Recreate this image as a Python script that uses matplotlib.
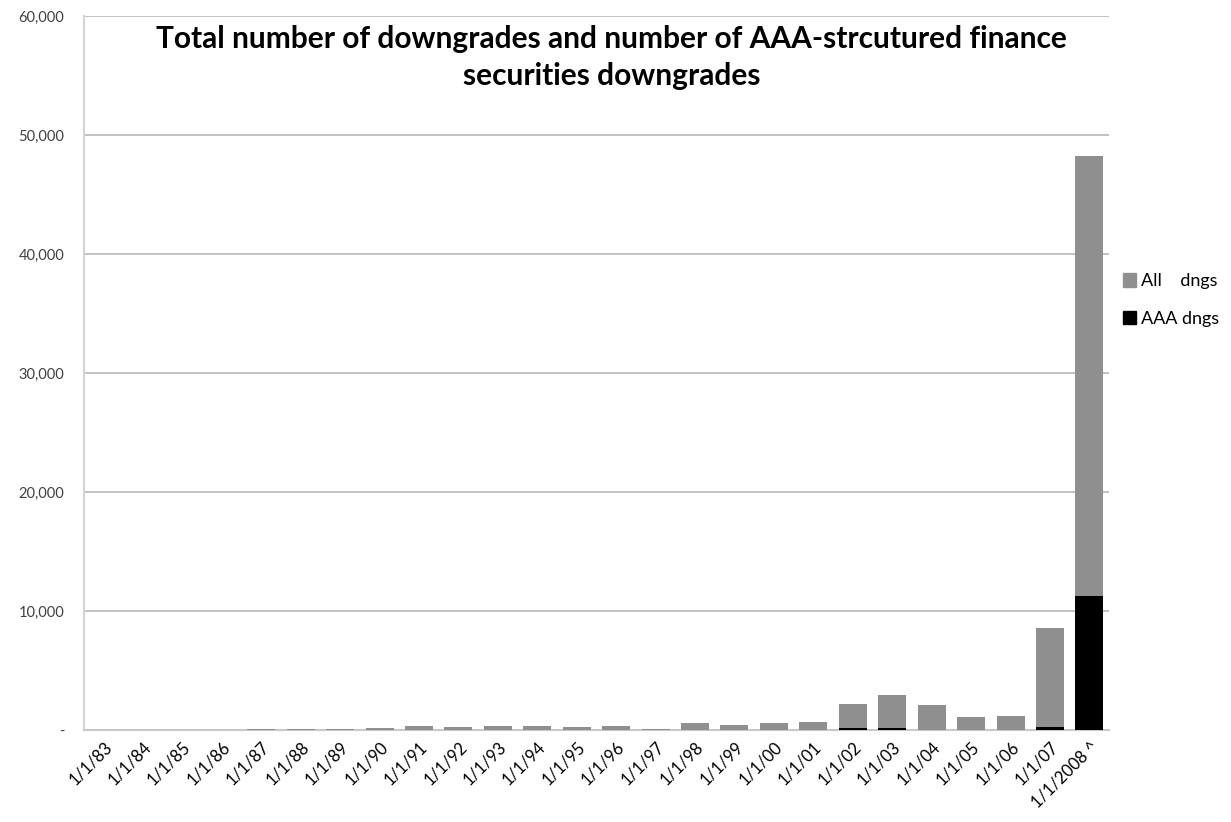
import numpy as np
import matplotlib
matplotlib.use("Agg")
import matplotlib.pyplot as plt
from matplotlib.ticker import FuncFormatter
from matplotlib.patches import Patch

# ---------------- Data ----------------
dates = [
    "1/1/83", "1/1/84", "1/1/85", "1/1/86", "1/1/87", "1/1/88", "1/1/89",
    "1/1/90", "1/1/91", "1/1/92", "1/1/93", "1/1/94", "1/1/95", "1/1/96",
    "1/1/97", "1/1/98", "1/1/99", "1/1/00", "1/1/01", "1/1/02", "1/1/03",
    "1/1/04", "1/1/05", "1/1/06", "1/1/07", "1/1/2008 ^",
]
aaa_dngs = [
    0, 0, 0, 0, 0, 0, 0, 0, 0, 0, 0, 0, 0, 0,
    0, 0, 0, 0, 0, 150, 150, 30, 0, 0, 250, 11300,
]
all_dngs = [
    0, 0, 0, 0, 100, 100, 100, 200, 350, 250, 350, 350, 250, 350,
    100, 550, 450, 550, 650, 2050, 2750, 2070, 1100, 1200, 8350, 37000,
]
yticks = [0, 10000, 20000, 30000, 40000, 50000, 60000]

# ---------------- Style ----------------
plt.rcParams["font.family"] = ["Lato", "DejaVu Sans"]
gray = "#8f8f8f"
black = "#000000"
label_col = "#404040"

fig = plt.figure(figsize=(12.31, 8.22), dpi=100)
ax = fig.add_axes([0.068, 0.112, 0.833, 0.868])

x = np.arange(len(dates))
ax.bar(x, aaa_dngs, width=0.71, color=black, zorder=3)
ax.bar(x, all_dngs, width=0.71, bottom=aaa_dngs, color=gray, zorder=3)

ax.set_xlim(-0.5, len(dates) - 0.5)
ax.set_ylim(0, 60000)
ax.set_yticks(yticks)
ax.yaxis.set_major_formatter(
    FuncFormatter(lambda v, p: "-" if v == 0 else f"{int(v):,}")
)
ax.grid(axis="y", color="#b8b8b8", linewidth=1.2, zorder=0)
ax.set_axisbelow(True)

for s in ["top", "right"]:
    ax.spines[s].set_visible(False)
ax.spines["left"].set_color("#d4d4d4")
ax.spines["left"].set_linewidth(1.5)
ax.spines["bottom"].set_color("#c8c8c8")
ax.spines["bottom"].set_linewidth(1.5)

ax.tick_params(axis="y", length=0, pad=14, labelsize=10.5, labelcolor=label_col)
ax.tick_params(axis="x", length=0, pad=6, labelsize=12, labelcolor="#000000")
ax.set_xticks(x)
ax.set_xticklabels(dates, rotation=45, ha="right", rotation_mode="anchor")

fig.text(0.497, 0.970,
         "Total number of downgrades and number of AAA-strcutured finance\nsecurities downgrades",
         ha="center", va="top", fontsize=21.5, fontweight="bold",
         linespacing=1.4)

handles = [Patch(color=gray, label="All    dngs"), Patch(color=black, label="AAA dngs")]
fig.legend(handles=handles, loc="center left", bbox_to_anchor=(0.906, 0.635),
           frameon=False, fontsize=13, handlelength=0.75, handleheight=0.75,
           handletextpad=0.3, labelspacing=1.2, borderaxespad=0)

fig.savefig("out.png", dpi=100)
